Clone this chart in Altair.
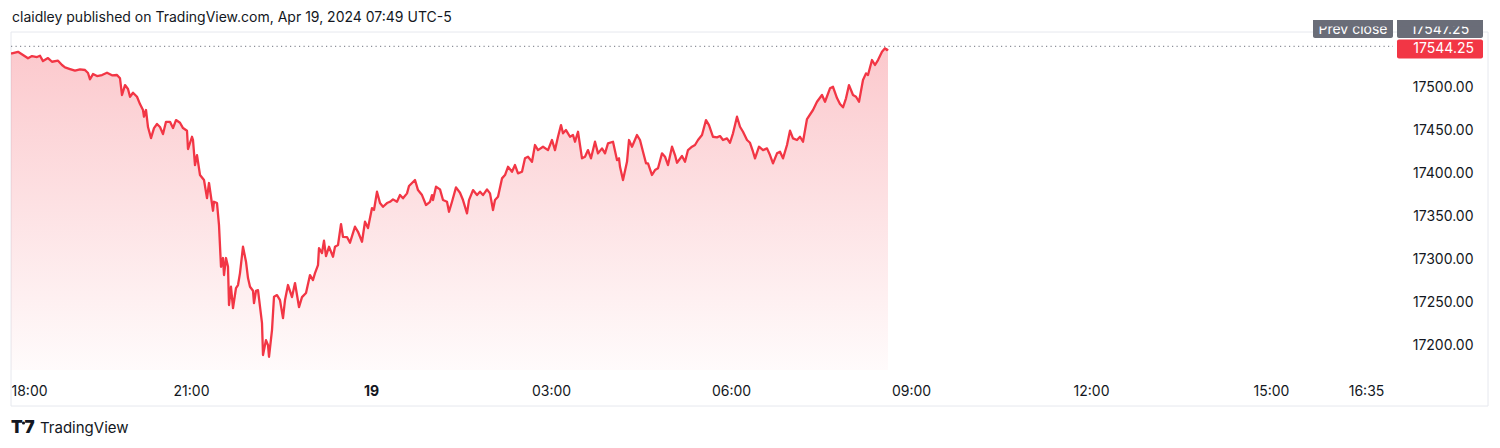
import altair as alt
import pandas as pd

# ---- data (minutes since 18:00 on Apr 18, price) ----
minutes = [0, 1, 7, 12, 17, 21, 26, 29, 32, 37, 41, 47, 51, 54, 59, 64, 69, 74, 77, 79,
           82, 86, 91, 96, 101, 106, 109, 111, 114, 117, 119, 122, 126, 129, 132, 133, 135, 137, 140, 143,
           146, 149, 152, 155, 159, 162, 165, 169, 172, 176, 177, 181, 182, 184, 186, 189, 193, 196, 198, 202,
           203, 206, 208, 210, 212, 213, 215, 217, 218, 220, 222, 225, 227, 229, 232, 235, 237, 239, 242, 243,
           245, 247, 251, 252, 255, 257, 258, 261, 263, 266, 269, 272, 274, 277, 281, 284, 288, 291, 295, 299,
           302, 304, 307, 308, 311, 313, 315, 318, 322, 324, 327, 330, 332, 336, 339, 344, 347, 351, 354, 357,
           361, 363, 366, 369, 372, 376, 379, 382, 386, 389, 392, 396, 398, 404, 407, 411, 415, 419, 421, 422,
           425, 429, 432, 436, 438, 441, 445, 449, 452, 456, 458, 462, 466, 469, 472, 476, 479, 482, 484, 487,
           491, 494, 497, 501, 504, 507, 511, 514, 517, 521, 524, 527, 532, 537, 541, 544, 547, 550, 552, 555,
           559, 562, 564, 567, 571, 574, 577, 580, 584, 587, 591, 594, 597, 602, 606, 608, 609, 612, 616, 618,
           621, 626, 629, 632, 635, 637, 641, 644, 647, 651, 654, 657, 661, 664, 666, 671, 674, 677, 681, 684,
           687, 691, 695, 698, 702, 706, 709, 712, 716, 719, 722, 726, 729, 732, 736, 739, 742, 744, 748, 752,
           756, 759, 762, 766, 769, 772, 776, 779, 782, 786, 789, 792, 796, 802, 806, 811, 814, 819, 822, 826,
           829, 832, 835, 838, 842, 845, 848, 852, 855, 857, 861, 864, 867, 871, 874, 876, 877]
prices = [17539.2, 17539.2, 17541.0, 17537.2, 17533.4, 17536.0, 17534.9, 17536.4, 17530.2, 17533.7,
          17529.4, 17530.6, 17525.6, 17522.9, 17520.9, 17519.0, 17520.6, 17519.8, 17516.3, 17509.0,
          17515.1, 17512.8, 17514.0, 17516.6, 17513.6, 17514.0, 17510.1, 17490.7, 17502.3, 17497.7,
          17488.7, 17493.4, 17488.7, 17480.2, 17473.3, 17465.5, 17473.3, 17453.5, 17440.7, 17452.3,
          17457.0, 17453.5, 17445.3, 17459.6, 17459.6, 17452.3, 17461.6, 17458.5, 17452.3, 17449.2,
          17427.9, 17442.2, 17438.4, 17409.3, 17420.9, 17397.7, 17391.9, 17370.9, 17388.4, 17356.2,
          17366.6, 17365.1, 17339.5, 17291.0, 17301.2, 17281.4, 17301.2, 17291.0, 17246.5, 17267.8,
          17243.0, 17266.3, 17269.8, 17283.7, 17314.3, 17296.9, 17277.9, 17267.8, 17263.1, 17248.8,
          17263.1, 17263.9, 17225.6, 17188.4, 17205.8, 17200.0, 17186.4, 17217.4, 17256.2, 17258.1,
          17252.3, 17231.4, 17252.3, 17269.8, 17255.8, 17272.1, 17244.2, 17255.8, 17260.5, 17281.4,
          17275.6, 17283.7, 17293.0, 17312.8, 17307.0, 17321.3, 17303.5, 17314.3, 17302.7, 17314.3,
          17316.3, 17340.7, 17325.9, 17325.6, 17319.0, 17337.6, 17331.7, 17320.1, 17343.4, 17336.0,
          17359.3, 17357.0, 17378.3, 17365.1, 17360.8, 17365.1, 17366.6, 17369.4, 17366.6, 17374.4,
          17370.6, 17376.4, 17384.9, 17391.9, 17380.2, 17374.4, 17362.8, 17366.6, 17374.4, 17368.6,
          17384.1, 17381.0, 17368.6, 17366.6, 17355.0, 17366.6, 17383.4, 17377.1, 17368.6, 17353.1,
          17368.6, 17380.2, 17374.4, 17378.3, 17374.4, 17381.0, 17376.4, 17357.0, 17368.6, 17372.4,
          17393.8, 17397.7, 17407.3, 17401.5, 17409.3, 17399.6, 17401.5, 17417.1, 17419.0, 17413.1,
          17432.6, 17426.7, 17430.6, 17426.7, 17438.4, 17426.7, 17442.2, 17455.8, 17446.2, 17450.0,
          17442.2, 17444.2, 17436.4, 17448.0, 17417.1, 17419.0, 17426.7, 17417.1, 17436.4, 17422.9,
          17428.7, 17422.9, 17434.5, 17436.4, 17415.1, 17417.1, 17407.3, 17391.9, 17413.1, 17438.4,
          17430.6, 17444.2, 17438.4, 17424.8, 17411.3, 17411.3, 17397.7, 17403.5, 17405.5, 17422.9,
          17419.0, 17409.3, 17430.6, 17420.9, 17412.0, 17419.8, 17413.1, 17426.7, 17430.6, 17432.6,
          17438.4, 17444.2, 17461.6, 17455.8, 17442.2, 17441.5, 17443.0, 17438.4, 17440.3, 17435.2,
          17446.2, 17465.5, 17453.8, 17448.0, 17438.4, 17435.2, 17424.8, 17417.1, 17430.6, 17426.7,
          17428.7, 17420.9, 17411.3, 17422.9, 17424.8, 17417.1, 17432.6, 17449.2, 17440.3, 17438.4,
          17442.2, 17436.4, 17462.8, 17473.3, 17482.9, 17490.7, 17482.9, 17498.5, 17500.3, 17487.2,
          17480.2, 17476.4, 17486.9, 17502.3, 17490.7, 17488.7, 17482.9, 17508.1, 17515.9, 17514.0,
          17531.4, 17525.6, 17531.4, 17541.0, 17545.0, 17543.0, 17544.25]

x_tick_minutes = [0, 180, 360, 540, 720, 900, 1080, 1260, 1355]
x_tick_labels = ["18:00", "21:00", "19", "03:00", "06:00", "09:00", "12:00", "15:00", "16:35"]
bold_tick = 360
y_ticks = [17200, 17250, 17300, 17350, 17400, 17450, 17500]
y_min, y_max = 17171, 17564
last_price = 17544.25
prev_close = 17547.25
header_text = "claidley published on TradingView.com, Apr 19, 2024 07:49 UTC-5"
footer_text = "TradingView"

# ---- layout ----
W, H = 1384, 338
FONT = "Inter"
TXT = "#131722"
RED = "#F23645"
GRAY = "#6a6d78"
FS = 14

df = pd.DataFrame({"m": minutes, "p": prices})

label_expr = "datum.value"
for m, lab in reversed(list(zip(x_tick_minutes, x_tick_labels))):
    label_expr = f"datum.value == {m} ? '{lab}' : (" + label_expr + ")"

x_scale = alt.Scale(domain=[0, W], nice=False, zero=False)
y_scale = alt.Scale(domain=[y_min, y_max], nice=False, zero=False)

x_axis = alt.Axis(values=x_tick_minutes, labelExpr=label_expr, title=None, grid=False,
                  domain=False, ticks=False, labelPadding=21, labelBaseline="middle",
                  labelFlush=True, labelFont=FONT, labelFontSize=FS, labelColor=TXT,
                  labelFontWeight={"condition": {"test": f"datum.value == {bold_tick}", "value": "bold"},
                                   "value": "normal"},
                  labelOverlap=False)
y_axis = alt.Axis(values=y_ticks, format=".2f", orient="right", title=None, grid=False,
                  domain=False, ticks=False, labelAlign="right", labelPadding=78,
                  labelFont=FONT, labelFontSize=FS, labelColor=TXT)

X = alt.X("m:Q", scale=x_scale, axis=x_axis)
Y = alt.Y("p:Q", scale=y_scale, axis=y_axis)

area = alt.Chart(df).mark_area(
    color=alt.Gradient(
        gradient="linear",
        stops=[alt.GradientStop(color="rgba(242,54,69,0.27)", offset=0),
               alt.GradientStop(color="rgba(242,54,69,0.02)", offset=1)],
        x1=1, x2=1, y1=0, y2=1),
).encode(x=X, y=Y, y2=alt.datum(y_min))

line = alt.Chart(df).mark_line(color=RED, strokeWidth=2.3, strokeJoin="round").encode(x=X, y=Y)

prev_df = pd.DataFrame({"p": [prev_close]})
prev_rule = alt.Chart(prev_df).mark_rule(color="#8c8f99", strokeDash=[1.2, 3.3], strokeWidth=1.2).encode(
    y=Y, x=alt.value(0), x2=alt.value(W - 2))

last_df = pd.DataFrame({"p": [last_price], "hi": [last_price + 11], "lo": [last_price - 11],
                        "t": [f"{last_price:.2f}"]})
last_box = alt.Chart(last_df).mark_rect(color=RED, cornerRadius=2).encode(
    y=alt.Y("hi:Q", scale=y_scale, axis=y_axis), y2="lo:Q", x=alt.value(W + 2), x2=alt.value(W + 88))
last_txt = alt.Chart(last_df).mark_text(color="white", font=FONT, fontSize=FS, align="right",
                                        baseline="middle").encode(
    y=Y, x=alt.value(W + 79), text="t:N")

# price-scale labels for the previous close (boxes pushed above the last-price label)
prev_lab_df = pd.DataFrame({"t": ["Prev close", f"{prev_close:.2f}"],
                            "x0": [W - 82, W + 2], "x1": [W - 2, W + 88], "xc": [W - 42, W + 45]})
PX0 = alt.X("x0:Q", scale=x_scale, axis=x_axis)
PXC = alt.X("xc:Q", scale=x_scale, axis=x_axis)
prev_boxes = alt.Chart(prev_lab_df).mark_rect(color=GRAY, cornerRadius=2).encode(
    x=PX0, x2="x1:Q", y=alt.value(-12), y2=alt.value(6))
prev_txt = alt.Chart(prev_lab_df).mark_text(color="white", font=FONT, fontSize=FS,
                                            baseline="middle").encode(
    x=PXC, y=alt.value(-2.5), text="t:N")
prev_cover = alt.Chart(prev_lab_df).mark_rect(color=GRAY).encode(
    x=PX0, x2="x1:Q", y=alt.value(-12), y2=alt.value(-5.5))

frame = alt.Chart(pd.DataFrame({"a": [0]})).mark_rect(fill="transparent", stroke="#e6e8ee",
                                                      strokeWidth=1).encode(
    x=alt.value(0), x2=alt.value(1477), y=alt.value(0), y2=alt.value(374))

header = alt.Chart(pd.DataFrame({"t": [header_text]})).mark_text(
    font=FONT, fontSize=14, color=TXT, align="left", baseline="middle").encode(
    x=alt.value(1), y=alt.value(-14), text="t:N")

logo_t = alt.Chart(pd.DataFrame({"t": ["T"]})).mark_text(
    font=FONT, fontSize=17, fontWeight=900, color=TXT, align="left", baseline="middle").encode(
    x=alt.value(0), y=alt.value(396), text="t:N")
logo_dot = alt.Chart(pd.DataFrame({"t": ["."]})).mark_point(
    filled=True, color=TXT, shape="circle", size=10, opacity=1).encode(
    x=alt.value(12.5), y=alt.value(391))
logo_7 = alt.Chart(pd.DataFrame({"t": ["7"]})).mark_text(
    font=FONT, fontSize=17, fontWeight=900, color=TXT, align="left", baseline="middle").encode(
    x=alt.value(13.5), y=alt.value(396), text="t:N")
footer = alt.Chart(pd.DataFrame({"t": [footer_text]})).mark_text(
    font=FONT, fontSize=15, color=TXT, align="left", baseline="middle").encode(
    x=alt.value(29), y=alt.value(396), text="t:N")

chart = alt.layer(frame, area, line, prev_rule, prev_boxes, prev_txt, prev_cover, last_box, last_txt,
                  header, logo_t, logo_dot, logo_7, footer).properties(
    width=W, height=H,
    background="white",
    autosize=alt.AutoSizeParams(type="none"),
    padding={"left": 3, "top": 24, "right": 97, "bottom": 70},
).configure_view(stroke="transparent", strokeWidth=0
).configure_axis(domain=False, grid=False, ticks=False)

chart.save("out.html", embed_options={"renderer": "svg", "actions": False})
